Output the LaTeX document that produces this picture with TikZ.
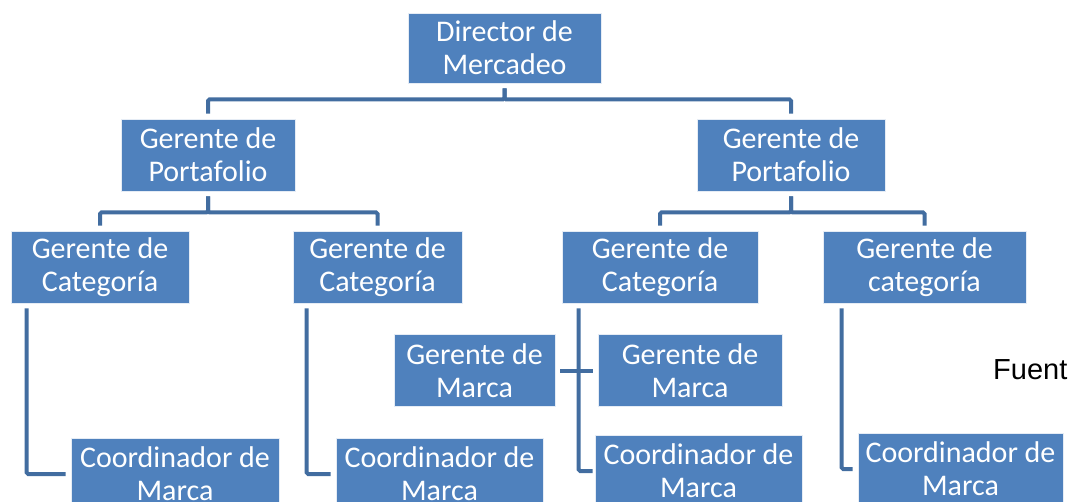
\documentclass[tikz,border=0pt]{standalone}
\usepackage{fontspec}
\setmainfont{Carlito}
\newfontfamily\arialfont{Liberation Sans}
\usepackage{xcolor}
\usepackage{tikz}
\usetikzlibrary{positioning,calc}
\definecolor{boxblue}{RGB}{79,129,189}
\definecolor{lineblue}{RGB}{66,109,160}

\begin{document}
\begin{tikzpicture}[x=1pt, y=-1pt]
\tikzstyle{box}=[fill=boxblue, draw=white!85!boxblue, line width=0.8pt, text=white, align=center, inner sep=0pt, minimum height=72pt, font=\fontsize{30}{33}\selectfont]
\tikzstyle{conn}=[draw=lineblue, line width=4pt, rounded corners=1.5pt, shorten <=5pt, shorten >=5pt]
\useasboundingbox (0,0) rectangle (1070,502);

\node[box, minimum width=193pt, minimum height=70pt] (dir) at (504.5,48) {Director de\\Mercadeo};
\node[box, minimum width=174pt] (port1) at (208,155) {Gerente de\\Portafolio};
\node[box, minimum width=188pt] (port2) at (791,155) {Gerente de\\Portafolio};
\node[box, minimum width=178pt] (cat1) at (100,267) {Gerente de\\Categoría};
\node[box, minimum width=169pt] (cat2) at (377.5,267) {Gerente de\\Categoría};
\node[box, minimum width=196pt] (cat3) at (660,267) {Gerente de\\Categoría};
\node[box, minimum width=203pt] (cat4) at (924.5,267) {Gerente de\\categoría};
\node[box, minimum width=161pt] (marca1) at (474.5,370.5) {Gerente de\\Marca};
\node[box, minimum width=184pt] (marca2) at (690,370.5) {Gerente de\\Marca};
\node[box, minimum width=208pt] (coord1) at (175,474) {Coordinador de\\Marca};
\node[box, minimum width=207pt] (coord2) at (439.5,474) {Coordinador de\\Marca};
\node[box, minimum width=207pt] (coord3) at (698.5,471) {Coordinador de\\Marca};
\node[box, minimum width=205pt] (coord4) at (960.5,469) {Coordinador de\\Marca};
\node[anchor=base west, inner sep=0pt, font=\arialfont\fontsize{29}{33}\selectfont] (fuente) at (993,379) {Fuent};

\draw[conn] (dir.south) -- ++(0,16) -| (port1.north);
\draw[conn] (dir.south) -- ++(0,16) -| (port2.north);
\draw[conn] (port1.south) -- ++(0,21) -| (cat1.north);
\draw[conn] (port1.south) -- ++(0,21) -| (cat2.north);
\draw[conn] (port2.south) -- ++(0,21) -| (cat3.north);
\draw[conn] (port2.south) -- ++(0,21) -| (cat4.north);
\draw[conn] ([xshift=16pt]cat1.south west) |- (coord1.west);
\draw[conn] ([xshift=14pt]cat2.south west) |- (coord2.west);
\draw[conn, shorten >=2pt] ([xshift=17pt]cat3.south west) |- (coord3.west);
\draw[conn] ([xshift=19pt]cat4.south west) |- (coord4.west);
\draw[conn] (marca1.east) -- (marca2.west);
\end{tikzpicture}
\end{document}
